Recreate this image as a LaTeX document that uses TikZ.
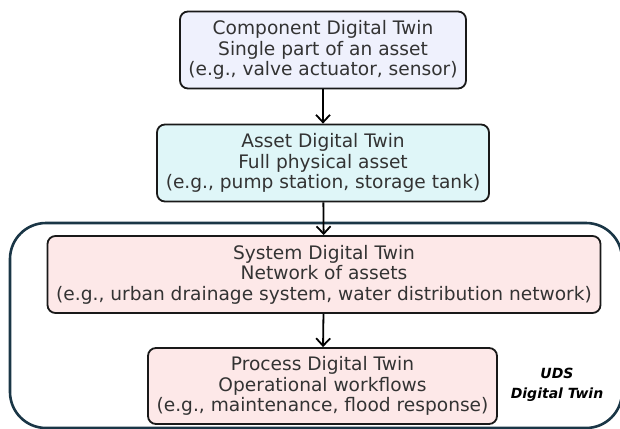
\documentclass[tikz,border=0pt]{standalone}
\usepackage{fontspec}
\setmainfont{DejaVu Sans}
\usetikzlibrary{arrows.meta}
\definecolor{txt}{HTML}{333333}
\definecolor{compfill}{HTML}{EFF1FD}
\definecolor{assetfill}{HTML}{DFF6F8}
\definecolor{sysfill}{HTML}{FDE8E8}
\definecolor{frame}{HTML}{1A3646}
\tikzset{
  level/.style={draw=black!90, line width=1.8pt, rounded corners=8pt,
    text=txt, align=center, inner sep=0pt,
    font=\fontsize{18.6}{20.6}\selectfont},
  flow/.style={line width=1.8pt, -{Straight Barb[length=7.5pt,width=14pt,line width=1.8pt]}},
}
\begin{document}
\begin{tikzpicture}[x=1pt,y=-1pt]
\useasboundingbox (0,0) rectangle (620,428);
% outer UDS frame
\draw[frame, line width=2.6pt, rounded corners=36pt] (10,223) rectangle (622,428);
\node[level, fill=compfill, minimum width=286pt, minimum height=77pt] (comp) at (323,50)
  {Component Digital Twin\\Single part of an asset\\(e.g., valve actuator, sensor)};
\node[level, fill=assetfill, minimum width=332pt, minimum height=77pt] (asset) at (323,163)
  {Asset Digital Twin\\Full physical asset\\(e.g., pump station, storage tank)};
\node[level, fill=sysfill, minimum width=553pt, minimum height=77pt] (sys) at (324,274.5)
  {System Digital Twin\\Network of assets\\(e.g., urban drainage system, water distribution network)};
\node[level, fill=sysfill, minimum width=349pt, minimum height=76pt] (proc) at (322.5,386)
  {Process Digital Twin\\Operational workflows\\(e.g., maintenance, flood response)};
\node[align=center, font=\fontsize{14}{20}\selectfont\bfseries\itshape] (uds) at (557,385)
  {UDS\\Digital Twin};
\draw[flow] (comp) -- (asset);
\draw[flow] (asset) -- (sys);
\draw[flow] (sys) -- (proc);
\end{tikzpicture}
\end{document}
